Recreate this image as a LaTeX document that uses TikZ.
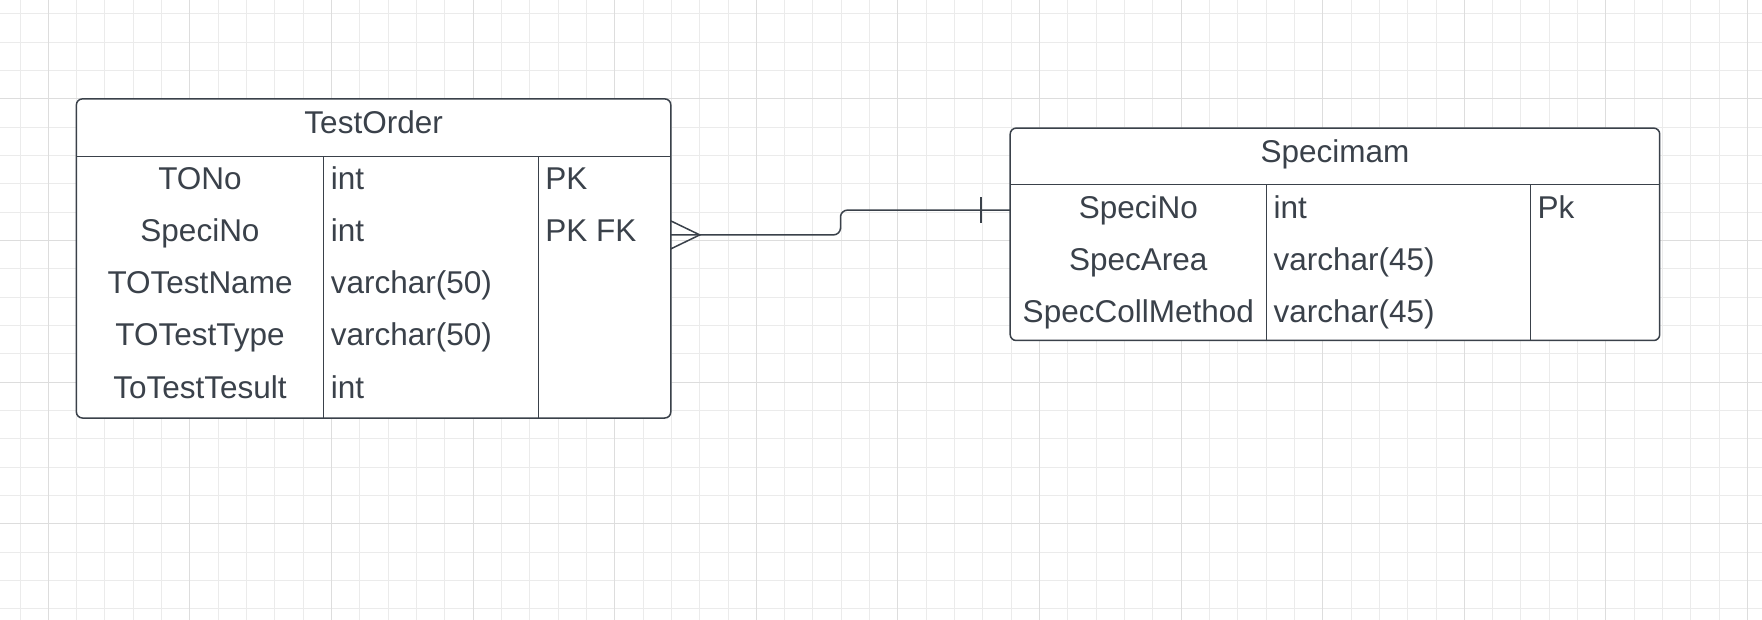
\documentclass[tikz,border=0pt]{standalone}
\usepackage{fontspec}
\setmainfont{Liberation Sans}
\usetikzlibrary{calc}
\definecolor{ink}{HTML}{3A414A}
\definecolor{gridminorc}{HTML}{EBEBEB}
\definecolor{gridmajorc}{HTML}{DDDDDD}
\begin{document}
\begin{tikzpicture}[x=1pt,y=-1pt,
  gridminor/.style={draw=gridminorc, line width=1pt},
  gridmajor/.style={draw=gridmajorc, line width=1pt},
  tablebox/.style={rectangle, draw=ink, fill=white, line width=1.5pt,
    rounded corners=6pt, inner sep=0pt, outer sep=0pt, anchor=north west},
  rule/.style={draw=ink, line width=1.3pt},
  label/.style={text=ink, font=\fontsize{31.5}{36}\selectfont, inner sep=0pt},
  cellc/.style={label, anchor=base},
  celll/.style={label, anchor=base west},
  conn/.style={draw=ink, line width=1.5pt, rounded corners=7pt},
  tick/.style={draw=ink, line width=1.8pt}]

% page and background grid
\useasboundingbox (0,0) rectangle (1762,620);
\fill[white] (0,0) rectangle (1762,620);
\foreach \k in {0,...,62}
  \draw[gridminor] ({20+28.32*\k},0) -- ++(0,620);
\foreach \k in {0,...,21}
  \draw[gridminor] (0,{14+28.32*\k}) -- ++(1762,0);
\foreach \k in {0,...,12}
  \draw[gridmajor] ({48.3+141.6*\k},0) -- ++(0,620);
\foreach \k in {0,...,3}
  \draw[gridmajor] (0,{98.9+141.6*\k}) -- ++(1762,0);

% TestOrder table
\node[tablebox, minimum width=594.4pt, minimum height=319.1pt] (testorder) at (76.4,98.9) {};
\draw[rule] ([yshift=-57.3pt]testorder.north west) -- ([yshift=-57.3pt]testorder.north east);
\draw[rule] ([xshift=247.2pt,yshift=-57.3pt]testorder.north west) -- ([xshift=247.2pt]testorder.south west);
\draw[rule] ([xshift=461.8pt,yshift=-57.3pt]testorder.north west) -- ([xshift=461.8pt]testorder.south west);
\node[cellc] (toTitle) at (373.6,133.2) {TestOrder};
\node[cellc] (toA1) at (200,189.5) {TONo};
\node[cellc] (toA2) at (200,241.5) {SpeciNo};
\node[cellc] (toA3) at (200,293.5) {TOTestName};
\node[cellc] (toA4) at (200,345.8) {TOTestType};
\node[cellc] (toA5) at (200,398.2) {ToTestTesult};
\node[celll] (toB1) at (330.6,189.5) {int};
\node[celll] (toB2) at (330.6,241.5) {int};
\node[celll] (toB3) at (330.6,293.5) {varchar(50)};
\node[celll] (toB4) at (330.6,345.8) {varchar(50)};
\node[celll] (toB5) at (330.6,398.2) {int};
\node[celll] (toC1) at (545.2,189.5) {PK};
\node[celll] (toC2) at (545.2,241.5) {PK FK};

% Specimam table
\node[tablebox, minimum width=649.5pt, minimum height=212.4pt] (specimam) at (1010.2,128.1) {};
\draw[rule] ([yshift=-56.2pt]specimam.north west) -- ([yshift=-56.2pt]specimam.north east);
\draw[rule] ([xshift=256.2pt,yshift=-56.2pt]specimam.north west) -- ([xshift=256.2pt]specimam.south west);
\draw[rule] ([xshift=520.3pt,yshift=-56.2pt]specimam.north west) -- ([xshift=520.3pt]specimam.south west);
\node[cellc] (spTitle) at (1335,162.4) {Specimam};
\node[cellc] (spA1) at (1138.3,218.2) {SpeciNo};
\node[cellc] (spA2) at (1138.3,270.3) {SpecArea};
\node[cellc] (spA3) at (1138.3,322.4) {SpecCollMethod};
\node[celll] (spB1) at (1273.4,218.2) {int};
\node[celll] (spB2) at (1273.4,270.3) {varchar(45)};
\node[celll] (spB3) at (1273.4,322.4) {varchar(45)};
\node[celll] (spC1) at (1537.4,218.2) {Pk};

% relationship: many TestOrder rows to one Specimam
\coordinate (fk) at ([yshift=-136pt]testorder.north east);
\coordinate (pk) at ([yshift=-82pt]specimam.north west);
\coordinate (bend) at ($(fk)!0.5!(pk)$);
\draw[conn] (fk) -| (bend) |- (pk);
\draw[conn, rounded corners=0pt] ([yshift=14pt]fk) -- ([xshift=29pt]fk) -- ([yshift=-14pt]fk);
\draw[tick] ([xshift=-29pt,yshift=13pt]pk) -- ([xshift=-29pt,yshift=-13pt]pk);
\end{tikzpicture}
\end{document}
